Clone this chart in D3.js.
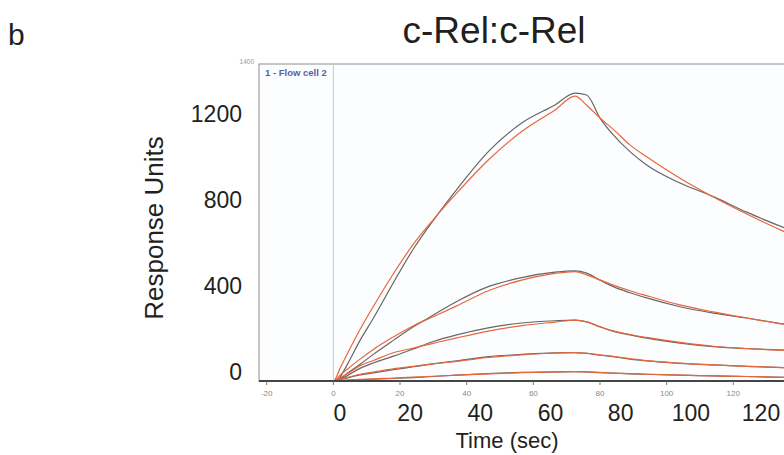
<!DOCTYPE html>
<html>
<head>
<meta charset="utf-8">
<script src="https://cdn.jsdelivr.net/npm/d3@7"></script>
<style>
  body { margin: 0; background: #fff; }
  text { font-family: "Liberation Sans", Arial, sans-serif; fill: #231f20; }
</style>
</head>
<body>
<div id="chart"></div>
<script>
// time grid (sec) shared by all sensorgrams
var timeSec = [-22, 0, 2, 4, 8, 12, 18, 24, 30, 37, 46.5, 56.5, 66.5, 72.5, 76, 80, 84, 89, 94, 104, 114, 124, 135.4];

// observed responses (grey) and fitted curves (orange), RU
var obs1 = [0, 0, 18, 68, 180, 278, 435, 585, 712, 848, 1016, 1143, 1223, 1275, 1267, 1165, 1090, 1016, 957, 877, 817, 748, 678];
var fit1 = [0, 0, 56, 115, 228, 330, 475, 606, 715, 832, 979, 1105, 1201, 1262, 1222, 1165, 1115, 1046, 993, 898, 815, 740, 661];
var obs2 = [0, 0, 10, 32, 74, 118, 180, 240, 292, 352, 418, 458, 482, 488, 478, 447, 418, 391, 368, 329, 301, 279, 252];
var fit2 = [0, 0, 26, 50, 97, 140, 195, 245, 285, 333, 400, 447, 477, 485, 470, 448, 425, 400, 378, 337, 306, 279, 250];
var obs3 = [0, 0, 8, 22, 56, 80, 110, 142, 175, 204, 235, 257, 267, 270, 262, 240, 220, 204, 190, 168, 152, 143, 137];
var fit3 = [0, 0, 15, 30, 68, 91, 125, 146, 167, 191, 221, 245, 261, 270, 262, 241, 222, 206, 193, 171, 154, 144, 136];
var obs4 = [0, 0, 6, 13, 27, 36, 50, 63, 76, 89, 108, 118, 125, 126, 122, 114, 108, 97, 89, 78, 71, 65, 59];
var fit4 = [0, 0, 8, 15, 30, 40, 54, 65, 76, 87, 104, 116, 124, 126, 123, 116, 109, 99, 90, 79, 71, 65, 59];
var obs5 = [0, 0, 1, 3, 6, 8, 11, 15, 20, 26, 33, 38, 40, 41, 40, 37, 35, 32, 30, 26, 23, 20, 16];
var fit5 = [0, 0, 2, 4, 7, 10, 13, 17, 21, 26, 32, 37, 40, 41, 40, 38, 35, 33, 30, 26, 23, 20, 16];

// small instrument ticks and the large overlaid labels
var smallXTicks = [-20, 0, 20, 40, 60, 80, 100, 120];
var bigXLabels = [0, 20, 40, 60, 80, 100, 120];
var bigYLabels = [0, 400, 800, 1200];

var W = 784, H = 455;
var svg = d3.select("#chart").append("svg")
    .attr("width", W)
    .attr("height", H);

// instrument plot box
var box = {left: 259, top: 64, right: 790, bottom: 381};

var x = d3.scaleLinear().domain([-20, 120]).range([266.7, 733.3]);
var y = d3.scaleLinear().domain([0, 1400]).range([381, 65]);

// scales for the hand placed big labels
var xLab = d3.scaleLinear().domain([0, 120]).range([340, 761]);
var yLab = d3.scaleLinear().domain([0, 1200]).range([380, 121.7]);

svg.append("defs").append("clipPath").attr("id", "clip")
  .append("rect")
    .attr("x", box.left).attr("y", box.top)
    .attr("width", box.right - box.left).attr("height", box.bottom - box.top);

svg.append("rect")
    .attr("x", box.left).attr("y", box.top)
    .attr("width", box.right - box.left).attr("height", box.bottom - box.top)
    .attr("fill", "#fcfdff")
    .attr("stroke", "#8d8d8d")
    .attr("stroke-width", 1);

// injection start marker
svg.append("line")
    .attr("x1", x(0)).attr("x2", x(0))
    .attr("y1", box.top).attr("y2", box.bottom)
    .attr("stroke", "#c9c9c9").attr("stroke-width", 1);

svg.append("text")
    .attr("x", 265).attr("y", 76)
    .style("font-size", "9.5px").style("font-weight", "bold")
    .style("fill", "#5b5ea6")
    .text("1 - Flow cell 2");

svg.append("text")
    .attr("x", 254).attr("y", 64)
    .attr("text-anchor", "end")
    .style("font-size", "6.5px").style("fill", "#999")
    .text("1400");

var line = d3.line()
    .x(function(d) { return x(d[0]); })
    .y(function(d) { return y(d[1]); })
    .curve(d3.curveMonotoneX);

var curves = svg.append("g").attr("clip-path", "url(#clip)");

function pairs(vals) {
    return timeSec.map(function(t, i) { return [t, vals[i]]; });
}

[obs1, obs2, obs3, obs4, obs5].forEach(function(s) {
    curves.append("path")
        .attr("d", line(pairs(s)))
        .attr("fill", "none")
        .attr("stroke", "#666")
        .attr("stroke-width", 1.2);
});
[fit1, fit2, fit3, fit4, fit5].forEach(function(s) {
    curves.append("path")
        .attr("d", line(pairs(s)))
        .attr("fill", "none")
        .attr("stroke", "#e8663a")
        .attr("stroke-width", 1.2);
});

// instrument x axis
svg.append("line")
    .attr("x1", box.left).attr("x2", W)
    .attr("y1", box.bottom).attr("y2", box.bottom)
    .attr("stroke", "#444").attr("stroke-width", 2);

var sx = svg.append("g");
sx.selectAll("line").data(smallXTicks).enter().append("line")
    .attr("x1", function(d) { return x(d); }).attr("x2", function(d) { return x(d); })
    .attr("y1", box.bottom).attr("y2", box.bottom + 4)
    .attr("stroke", "#777");
sx.selectAll("text").data(smallXTicks).enter().append("text")
    .attr("x", function(d) { return x(d); })
    .attr("y", 396)
    .attr("text-anchor", "middle")
    .style("font-size", "8px").style("fill", "#8a8a8a")
    .text(function(d) { return d; });

// big overlaid labels
svg.selectAll(".bx").data(bigXLabels).enter().append("text")
    .attr("class", "bx")
    .attr("x", function(d) { return xLab(d); })
    .attr("y", 421)
    .attr("text-anchor", "middle")
    .style("font-size", "23px")
    .text(function(d) { return d; });

svg.selectAll(".by").data(bigYLabels).enter().append("text")
    .attr("class", "by")
    .attr("x", 242)
    .attr("y", function(d) { return yLab(d); })
    .attr("text-anchor", "end")
    .style("font-size", "23px")
    .text(function(d) { return d; });

svg.append("text")
    .attr("x", 507).attr("y", 448)
    .attr("text-anchor", "middle")
    .style("font-size", "22px")
    .text("Time (sec)");

svg.append("text")
    .attr("transform", "translate(163,228) rotate(-90)")
    .attr("text-anchor", "middle")
    .style("font-size", "26px")
    .text("Response Units");

svg.append("text")
    .attr("x", 494).attr("y", 43)
    .attr("text-anchor", "middle")
    .style("font-size", "37px")
    .text("c-Rel:c-Rel");

svg.append("text")
    .attr("x", 8).attr("y", 45)
    .style("font-size", "30px")
    .text("b");
</script>
</body>
</html>
